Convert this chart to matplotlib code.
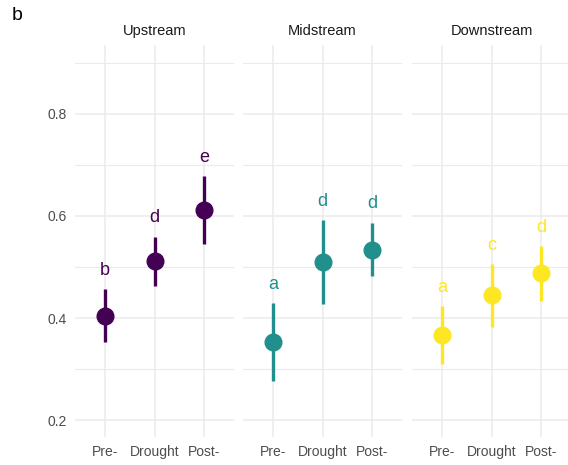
import matplotlib.pyplot as plt

plt.rcParams['font.family'] = ['Liberation Sans', 'DejaVu Sans']

regions = ["Upstream", "Midstream", "Downstream"]
periods = ["Pre-", "Drought", "Post-"]
colours = ["#440154", "#21908C", "#FDE725"]

means = [[0.405, 0.511, 0.612],
         [0.353, 0.509, 0.534],
         [0.367, 0.445, 0.488]]
lower = [[0.353, 0.463, 0.545],
         [0.276, 0.427, 0.483],
         [0.310, 0.383, 0.434]]
upper = [[0.456, 0.558, 0.678],
         [0.429, 0.592, 0.586],
         [0.424, 0.506, 0.542]]
letters = [["b", "d", "e"],
           ["a", "d", "d"],
           ["a", "c", "d"]]
letter_y = [[0.493, 0.598, 0.714],
            [0.465, 0.628, 0.624],
            [0.460, 0.542, 0.577]]

fig = plt.figure(figsize=(5.68, 4.65), dpi=100)
lefts = [75, 243, 412]
for k in range(3):
    ax = fig.add_axes([lefts[k] / 568, 1 - 437 / 465, 159 / 568, 392 / 465])
    x = list(range(1, 4))
    ax.vlines(x, lower[k], upper[k], color=colours[k], lw=2.4, zorder=3)
    ax.plot(x, means[k], 'o', color=colours[k], ms=12, zorder=4)
    for i in range(3):
        ax.text(x[i], letter_y[k][i], letters[k][i], color=colours[k],
                fontsize=13, ha='center', va='center')
    ax.set_xlim(0.4, 3.6)
    ax.set_ylim(0.167, 0.935)
    ax.set_xticks(x)
    ax.set_xticklabels(periods)
    ax.set_yticks([0.2, 0.4, 0.6, 0.8])
    ax.set_yticks([0.3, 0.5, 0.7, 0.9], minor=True)
    if k == 0:
        ax.set_yticklabels(["0.2", "0.4", "0.6", "0.8"])
    else:
        ax.set_yticklabels([])
    ax.grid(True, which='major', color='#EBEBEB', lw=1.1)
    ax.grid(True, which='minor', axis='y', color='#EBEBEB', lw=0.8)
    ax.set_axisbelow(True)
    for s in ax.spines.values():
        s.set_visible(False)
    ax.tick_params(which='both', length=0, labelsize=10, labelcolor='#4D4D4D', pad=6)
    ax.set_title(regions[k], fontsize=10.5, color='#1A1A1A', pad=7)

fig.text(12 / 568, 1 - 15 / 465, "b", fontsize=14, ha='left', va='center')
plt.savefig("out.png", dpi=100)
plt.close()
